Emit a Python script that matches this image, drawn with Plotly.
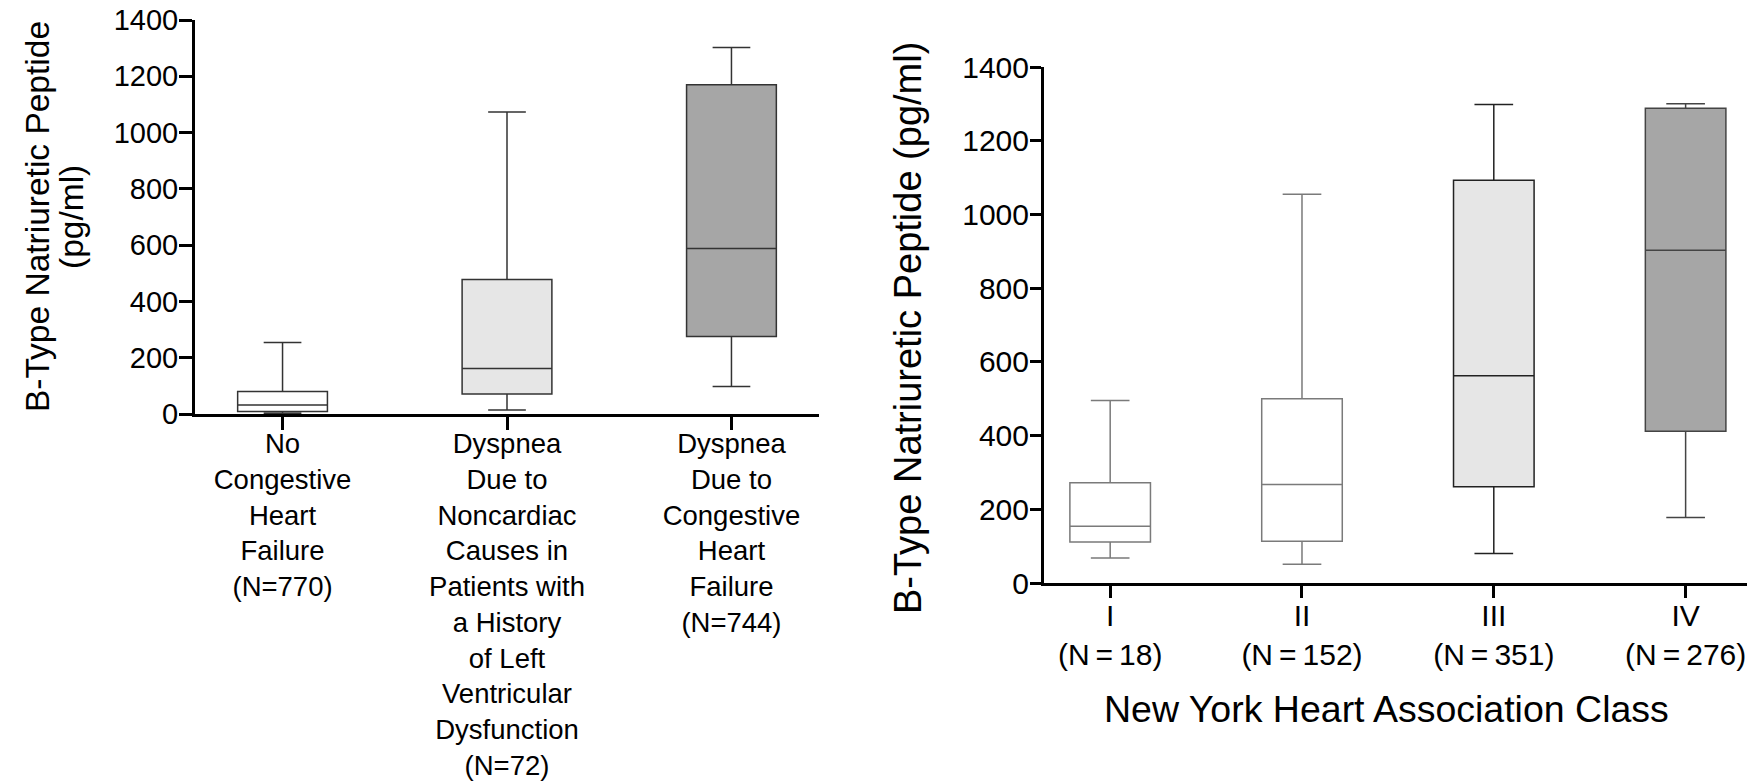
import plotly.graph_objects as go

# ---------------- Data ----------------
left_categories = ["No CHF", "Noncardiac with LVD", "CHF"]
left_tick_labels = [
    "No<br>Congestive<br>Heart<br>Failure<br>(N=770)",
    "Dyspnea<br>Due to<br>Noncardiac<br>Causes in<br>Patients with<br>a History<br>of Left<br>Ventricular<br>Dysfunction<br>(N=72)",
    "Dyspnea<br>Due to<br>Congestive<br>Heart<br>Failure<br>(N=744)",
]
left_lower = [3, 14, 98]
left_q1 = [9, 71, 275]
left_median = [32, 162, 588]
left_q3 = [80, 478, 1170]
left_upper = [254, 1073, 1302]
left_fill = ["#ffffff", "#e6e6e6", "#a6a6a6"]
left_line = ["#333333", "#333333", "#333333"]

right_categories = ["I", "II", "III", "IV"]
right_tick_labels = [
    "I<br>(N\u2009=\u200918)",
    "II<br>(N\u2009=\u2009152)",
    "III<br>(N\u2009=\u2009351)",
    "IV<br>(N\u2009=\u2009276)",
]
right_lower = [68, 51, 80, 178]
right_q1 = [111, 113, 261, 412]
right_median = [154, 267, 562, 903]
right_q3 = [272, 500, 1093, 1288]
right_upper = [495, 1055, 1298, 1300]
right_fill = ["#ffffff", "#ffffff", "#e6e6e6", "#a6a6a6"]
right_line = ["#7a7a7a", "#7a7a7a", "#222222", "#444444"]

y_ticks = [0, 200, 400, 600, 800, 1000, 1200, 1400]

y_title = "B-Type Natriuretic Peptide"
y_unit = "(pg/ml)"
x_title_right = "New York Heart Association Class"

FONT = "Liberation Sans, Arial, Helvetica, sans-serif"
W, H = 1747, 784

fig = go.Figure()

for i, cat in enumerate(left_categories):
    fig.add_trace(go.Box(
        x=[cat], q1=[left_q1[i]], median=[left_median[i]], q3=[left_q3[i]],
        lowerfence=[left_lower[i]], upperfence=[left_upper[i]],
        fillcolor=left_fill[i], line=dict(color=left_line[i], width=1.5),
        width=0.4, whiskerwidth=0.42, showlegend=False, hoverinfo="skip",
        xaxis="x", yaxis="y",
    ))

for i, cat in enumerate(right_categories):
    fig.add_trace(go.Box(
        x=[cat], q1=[right_q1[i]], median=[right_median[i]], q3=[right_q3[i]],
        lowerfence=[right_lower[i]], upperfence=[right_upper[i]],
        fillcolor=right_fill[i], line=dict(color=right_line[i], width=1.5),
        width=0.42, whiskerwidth=0.48, showlegend=False, hoverinfo="skip",
        xaxis="x2", yaxis="y2",
    ))

axis_common = dict(
    showline=True, linecolor="black", linewidth=3,
    ticks="outside", tickcolor="black", tickwidth=3,
    showgrid=False, zeroline=False,
)

fig.update_layout(
    width=W, height=H,
    margin=dict(l=0, r=0, t=0, b=0),
    paper_bgcolor="white", plot_bgcolor="white",
    template="none",
    font=dict(family=FONT, color="black"),
    xaxis=dict(
        domain=[195 / W, 819 / W], anchor="y", type="category",
        categoryorder="array", categoryarray=left_categories,
        range=[-0.39, 2.39], tickvals=left_categories, ticktext=left_tick_labels,
        ticklen=13, ticklabelstandoff=-10,
        tickfont=dict(size=27.5, family=FONT), **axis_common,
    ),
    yaxis=dict(
        domain=[1 - 414 / H, 1 - 20 / H], anchor="x",
        range=[0, 1400], tickvals=y_ticks, ticklen=13, ticklabelstandoff=-5,
        tickfont=dict(size=29, family=FONT), **axis_common,
    ),
    xaxis2=dict(
        domain=[1044 / W, 1.0], anchor="y2", type="category",
        categoryorder="array", categoryarray=right_categories,
        range=[-0.345, 3.32], tickvals=right_categories, ticktext=right_tick_labels,
        ticklen=12, ticklabelstandoff=-8,
        tickfont=dict(size=30, family=FONT), **axis_common,
    ),
    yaxis2=dict(
        domain=[1 - 583 / H, 1 - 67 / H], anchor="x2",
        range=[0, 1400], tickvals=y_ticks, ticklen=11, ticklabelstandoff=-5,
        tickfont=dict(size=30, family=FONT), **axis_common,
    ),
    annotations=[
        dict(text=y_title, x=37 / W, y=1 - 217 / H,
             xref="paper", yref="paper", xanchor="center", yanchor="middle",
             textangle=-90, showarrow=False, font=dict(size=33.5, family=FONT)),
        dict(text=y_unit, x=71 / W, y=1 - 217 / H,
             xref="paper", yref="paper", xanchor="center", yanchor="middle",
             textangle=-90, showarrow=False, font=dict(size=33.5, family=FONT)),
        dict(text=y_title + " " + y_unit, x=908 / W, y=1 - 328 / H,
             xref="paper", yref="paper", xanchor="center", yanchor="middle",
             textangle=-90, showarrow=False, font=dict(size=38, family=FONT)),
        dict(text=x_title_right, x=1386 / W, y=1 - 709 / H,
             xref="paper", yref="paper", xanchor="center", yanchor="middle",
             showarrow=False, font=dict(size=37.5, family=FONT)),
    ],
)

fig.write_html(
    "out.html",
    config={"displayModeBar": False},
    post_script="document.body.style.margin='0';document.body.style.overflow='hidden';",
)
